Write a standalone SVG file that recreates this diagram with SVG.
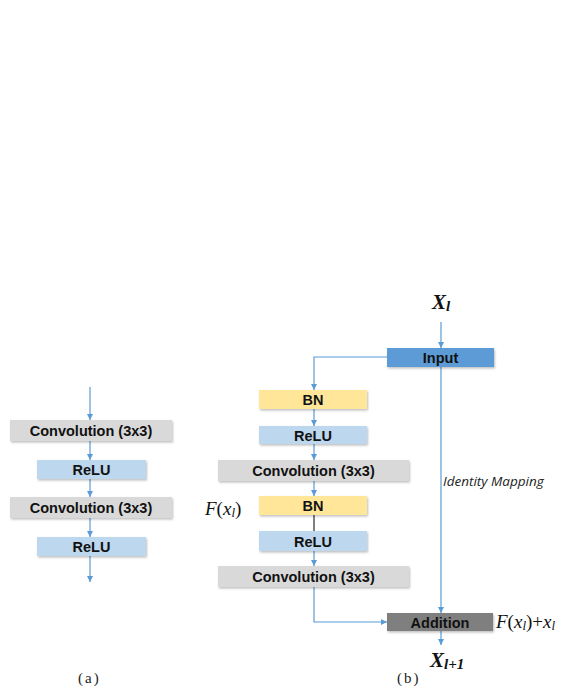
<svg xmlns="http://www.w3.org/2000/svg" width="570" height="688" viewBox="0 0 570 688">
<defs>
<marker id="ah" viewBox="0 0 10 10" refX="10" refY="5" markerWidth="6" markerHeight="6" markerUnits="userSpaceOnUse" orient="auto"><path d="M0,0 L10,5 L0,10 z" fill="#5B9BD5"/></marker>
<filter id="sh" x="-10%" y="-30%" width="120%" height="170%"><feDropShadow dx="1" dy="1.5" stdDeviation="0.8" flood-color="#000" flood-opacity="0.25"/></filter>
</defs>
<style>
.box{filter:url(#sh)}
.conv{fill:#D9D9D9}
.relu{fill:#BDD7EE}
.bn{fill:#FFE699}
.inp{fill:#5B9BD5}
.add{fill:#7F7F7F}
.lbl{font-family:"Liberation Sans",Arial,sans-serif;font-weight:bold;font-size:14.5px;fill:#111;text-anchor:middle}
.ln{stroke:#5B9BD5;stroke-width:1.2;fill:none}
.arr{marker-end:url(#ah)}
.math{font-family:"Liberation Serif","Times New Roman",serif;font-style:italic;fill:#111}
.cap{font-family:"Liberation Serif","Times New Roman",serif;font-size:15px;fill:#222;letter-spacing:2px}
</style>
<rect width="570" height="688" fill="#fff"/>
<g id="connectors">
<line class="ln arr" x1="90" y1="387" x2="90" y2="420"/>
<line class="ln arr" x1="90" y1="441" x2="90" y2="460"/>
<line class="ln arr" x1="90" y1="479" x2="90" y2="497"/>
<line class="ln arr" x1="90" y1="518" x2="90" y2="537"/>
<line class="ln arr" x1="90" y1="556" x2="90" y2="582"/>
<line class="ln arr" x1="441" y1="322" x2="441" y2="348"/>
<polyline class="ln arr" points="387,357 314,357 314,390"/>
<line class="ln arr" x1="314" y1="409" x2="314" y2="426"/>
<line class="ln arr" x1="314" y1="444" x2="314" y2="460"/>
<line class="ln arr" x1="314" y1="481" x2="314" y2="496"/>
<line x1="314" y1="515" x2="314" y2="531" stroke="#000" stroke-width="1"/>
<line class="ln arr" x1="314" y1="551" x2="314" y2="566"/>
<polyline class="ln arr" points="314,587 314,622 387,622"/>
<line class="ln arr" x1="441" y1="367" x2="441" y2="613"/>
<line class="ln arr" x1="441" y1="631" x2="441" y2="645"/>
</g>
<g id="a-conv1"><rect class="box conv" x="10" y="420" width="162" height="21"/><text class="lbl" x="91" y="436">Convolution (3x3)</text></g>
<g id="a-relu1"><rect class="box relu" x="37" y="460" width="109" height="19"/><text class="lbl" x="91.5" y="475">ReLU</text></g>
<g id="a-conv2"><rect class="box conv" x="10" y="497" width="162" height="21"/><text class="lbl" x="91" y="513">Convolution (3x3)</text></g>
<g id="a-relu2"><rect class="box relu" x="37" y="537" width="109" height="19"/><text class="lbl" x="91.5" y="552">ReLU</text></g>
<g id="b-input"><rect class="box inp" x="387" y="348" width="107" height="19"/><text class="lbl" x="440.5" y="363">Input</text></g>
<g id="b-bn1"><rect class="box bn" x="259" y="390" width="108" height="19"/><text class="lbl" x="313" y="405">BN</text></g>
<g id="b-relu1"><rect class="box relu" x="259" y="426" width="108" height="18"/><text class="lbl" x="313" y="440.5">ReLU</text></g>
<g id="b-conv1"><rect class="box conv" x="218" y="460" width="191" height="21"/><text class="lbl" x="313.5" y="476">Convolution (3x3)</text></g>
<g id="b-bn2"><rect class="box bn" x="259" y="496" width="108" height="19"/><text class="lbl" x="313" y="511">BN</text></g>
<g id="b-relu2"><rect class="box relu" x="259" y="531" width="108" height="20"/><text class="lbl" x="313" y="546.5">ReLU</text></g>
<g id="b-conv2"><rect class="box conv" x="218" y="566" width="191" height="21"/><text class="lbl" x="313.5" y="582">Convolution (3x3)</text></g>
<g id="b-add"><rect class="box add" x="387" y="613" width="106" height="18"/><text class="lbl" x="440" y="627.5">Addition</text></g>
<g id="labels">
<text class="math" x="432" y="309" font-size="21" font-weight="bold">X<tspan font-size="15" dy="2">l</tspan></text>
<text class="math" x="430" y="667" font-size="21" font-weight="bold">X<tspan font-size="15" dy="2">l+1</tspan></text>
<text class="math" x="205" y="515" font-size="19">F<tspan font-style="normal">(</tspan>x<tspan font-size="13" dy="2">l</tspan><tspan font-style="normal" dy="-2">)</tspan></text>
<text class="math" x="496" y="628" font-size="19">F<tspan font-style="normal">(</tspan>x<tspan font-size="13" dy="2">l</tspan><tspan font-style="normal" dy="-2">)+</tspan>x<tspan font-size="13" dy="2">l</tspan></text>
<text x="443" y="486" font-family="'Open Sans','Liberation Sans',sans-serif" font-style="italic" font-size="13.5" fill="#222">Identity Mapping</text>
<text class="cap" x="78" y="683">(a)</text>
<text class="cap" x="397" y="683">(b)</text>
</g>
</svg>
